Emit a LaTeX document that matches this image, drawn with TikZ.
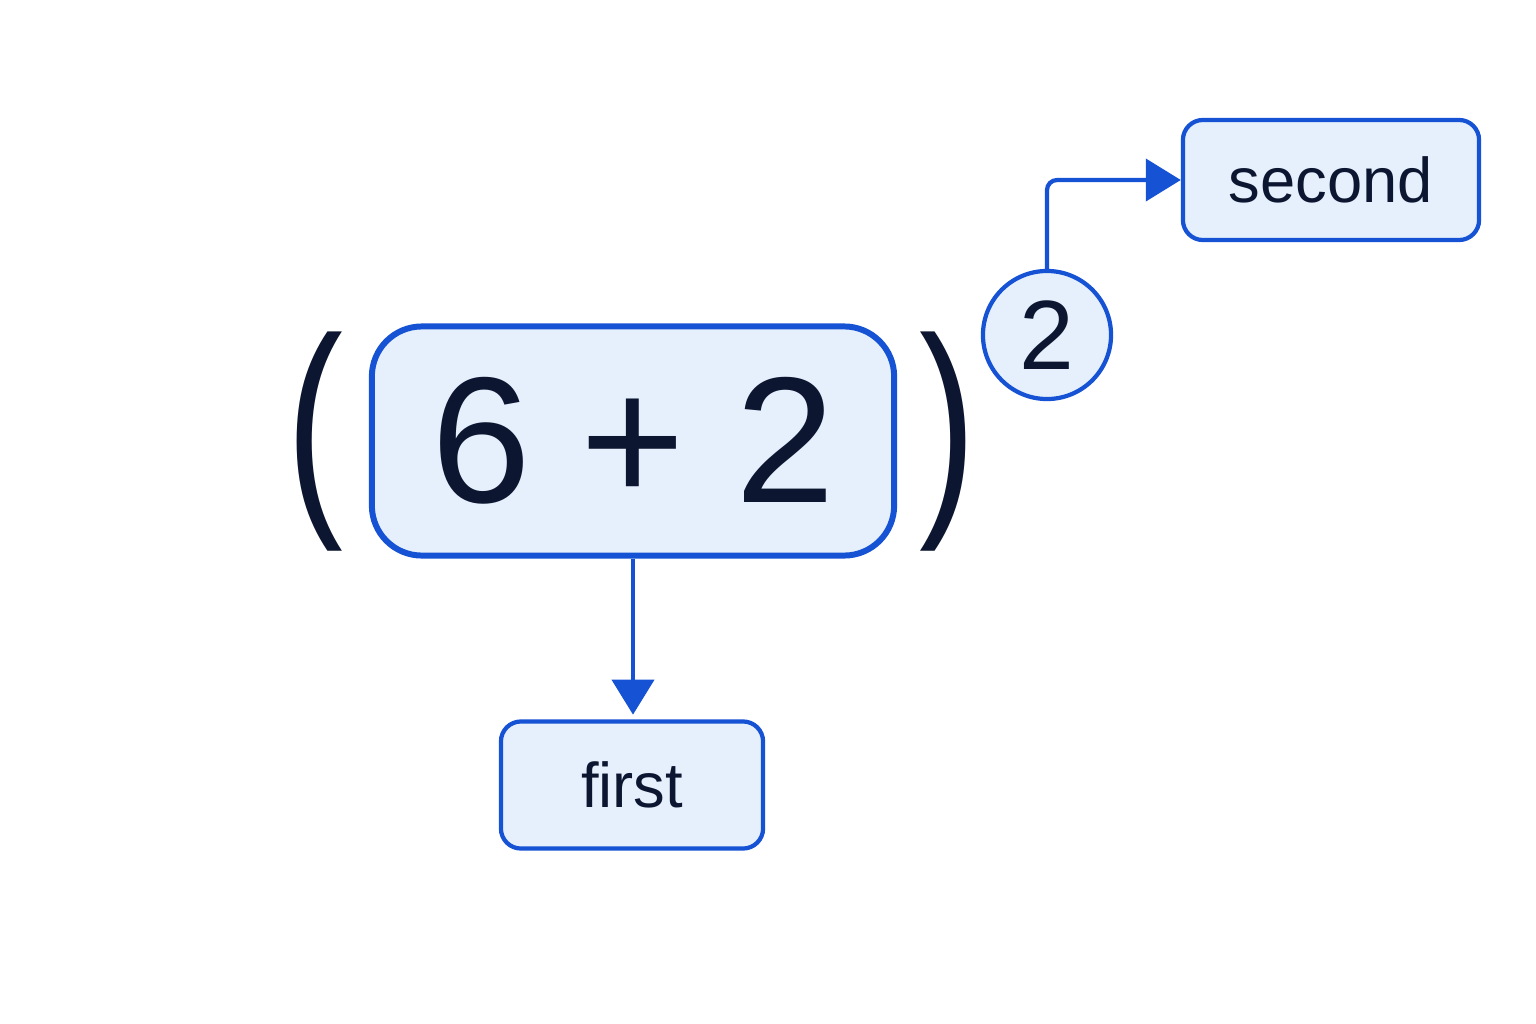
\documentclass[tikz,border=0pt]{standalone}
\usepackage{fontspec}
\setmainfont{Liberation Sans}
\usetikzlibrary{positioning,arrows.meta}
\definecolor{boxblue}{HTML}{1652D4}
\definecolor{boxfill}{HTML}{E6F0FC}
\definecolor{ink}{HTML}{0C1630}
\tikzset{
  term/.style={draw=boxblue, fill=boxfill, rounded corners=0.2cm, line width=1.2pt, text=ink},
  paren/.style={text=ink, font=\fontsize{54}{60}\selectfont, yscale=1.24, xscale=0.9, transform shape},
  link/.style={draw=boxblue, line width=1.2pt, -{Triangle[length=0.35cm,width=0.42cm]}, rounded corners=0.1cm}
}
\begin{document}
\begin{tikzpicture}[x=0.01cm, y=-0.01cm]
   \useasboundingbox (0,0) rectangle (1536,1024);
   \node[term, rounded corners=0.5cm, line width=1.7pt, minimum width=5.22cm, minimum height=2.29cm,
     font=\fontsize{51}{60}\selectfont] (sum) at (633,441) {6 + 2};
   \node[paren] (lpar) at (315,442) {(};
   \node[paren] (rpar) at (948,442) {)};
   \node[term, circle, minimum size=1.28cm, inner sep=0pt,
     font=\fontsize{28}{32}\selectfont] (power) at (1047,335) {2};
   \node[term, minimum width=2.96cm, minimum height=1.2cm,
     font=\fontsize{18}{22}\selectfont] (second) at (1331,180) {second};
   \node[term, minimum width=2.62cm, minimum height=1.27cm,
     font=\fontsize{18}{22}\selectfont] (first) at (632,785) {first};
   \draw[link] (sum.south) -- ++(0,-1.56cm) coordinate (tipA);
   \draw[link] (power.north) |- (second.west);
\end{tikzpicture}
\end{document}
